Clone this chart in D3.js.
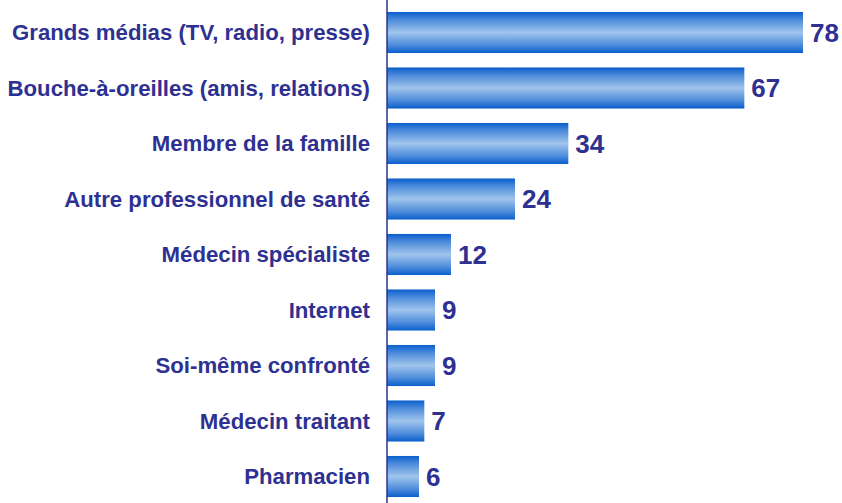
<!DOCTYPE html>
<html>
<head>
<meta charset="utf-8">
<script src="https://cdn.jsdelivr.net/npm/d3@7"></script>
<style>
  body { margin: 0; background: #fff; }
  svg text { font-family: "Liberation Sans", Arial, sans-serif; font-weight: bold; fill: #2e3192; }
</style>
</head>
<body>
<svg id="chart" width="842" height="503"></svg>
<script>
const categories = [
  'Grands médias (TV, radio, presse)',
  'Bouche-à-oreilles (amis, relations)',
  'Membre de la famille',
  'Autre professionnel de santé',
  'Médecin spécialiste',
  'Internet',
  'Soi-même confronté',
  'Médecin traitant',
  'Pharmacien'
];
const values = [78, 67, 34, 24, 12, 9, 9, 7, 6];

const width = 842, height = 503;
const axisX = 387;

const svg = d3.select('#chart');

const grad = svg.append('defs').append('linearGradient')
  .attr('id', 'barGrad')
  .attr('x1', 0).attr('y1', 0).attr('x2', 0).attr('y2', 1);
grad.selectAll('stop')
  .data([[0, '#0a5fcc'], [0.2, '#4f8ddb'], [0.5, '#9fc4ec'], [0.8, '#4f8ddb'], [1, '#0a5fcc']])
  .join('stop')
  .attr('offset', d => d[0])
  .attr('stop-color', d => d[1]);

const x = d3.scaleLinear().domain([0, 78]).range([axisX, 803]);
const y = d3.scaleBand().domain(categories).range([4.75, 504.25]).paddingInner(0.26).paddingOuter(0.13);

svg.selectAll('rect.bar')
  .data(values)
  .join('rect')
  .attr('class', 'bar')
  .attr('x', x(0))
  .attr('y', (d, i) => y(categories[i]))
  .attr('width', d => x(d) - x(0))
  .attr('height', y.bandwidth())
  .attr('fill', 'url(#barGrad)');

svg.selectAll('text.cat')
  .data(categories)
  .join('text')
  .attr('class', 'cat')
  .attr('x', 370)
  .attr('y', d => y(d) + y.bandwidth() / 2)
  .attr('dy', '0.36em')
  .attr('text-anchor', 'end')
  .style('font-size', '22.2px')
  .text(d => d);

svg.selectAll('text.val')
  .data(values)
  .join('text')
  .attr('class', 'val')
  .attr('x', d => x(d) + 7)
  .attr('y', (d, i) => y(categories[i]) + y.bandwidth() / 2)
  .attr('dy', '0.36em')
  .style('font-size', '26px')
  .text(d => d);

svg.append('line')
  .attr('x1', axisX).attr('x2', axisX)
  .attr('y1', 0).attr('y2', height)
  .attr('stroke', '#2e3192')
  .attr('stroke-width', 1.5);
</script>
</body>
</html>
